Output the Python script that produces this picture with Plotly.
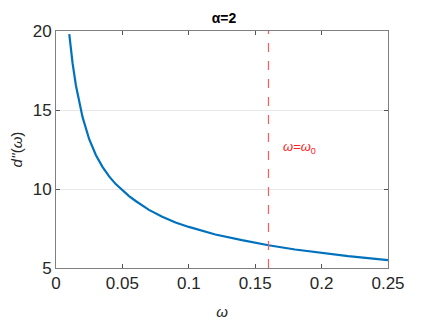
import plotly.graph_objects as go

# values
omega = [0.01, 0.0125, 0.015, 0.0175, 0.02, 0.025, 0.03, 0.035, 0.04, 0.045, 0.05, 0.055,
         0.06, 0.07, 0.08, 0.09, 0.1, 0.12, 0.14, 0.16, 0.18, 0.2, 0.22, 0.25]
d2 = [19.8, 17.95, 16.55, 15.45, 14.55, 13.15, 12.15, 11.4, 10.8, 10.31, 9.9, 9.55,
      9.24, 8.68, 8.24, 7.88, 7.6, 7.12, 6.76, 6.44, 6.17, 5.95, 5.75, 5.5]
omega0 = 0.16
xticks = [0, 0.05, 0.1, 0.15, 0.2, 0.25]
xticktext = ["0", "0.05", "0.1", "0.15", "0.2", "0.25"]
yticks = [5, 10, 15, 20]

fnt = "Liberation Sans, Arial, Helvetica, sans-serif"

fig = go.Figure()
fig.add_trace(go.Scatter(x=omega, y=d2, mode="lines",
                         line=dict(color="#0072BD", width=2.2),
                         showlegend=False, hoverinfo="x+y"))
# vertical dashed line w = w0
fig.add_trace(go.Scatter(x=[omega0, omega0], y=[5, 20], mode="lines",
                         line=dict(color="#ff5a5a", width=1.2, dash="dash"),
                         showlegend=False, hoverinfo="skip"))

fig.add_annotation(x=0.1695, y=12.6, xref="x", yref="y", xanchor="left", yanchor="middle",
                   text="<i>ω</i>=<i>ω</i><sub>0</sub>", showarrow=False,
                   font=dict(family=fnt, size=13, color="#ff2020"))

# page body adds 8px around the plot div, so the figure is a bit smaller than the window
fig.update_layout(
    width=421, height=314,
    margin=dict(l=48, r=41, t=23, b=54),
    paper_bgcolor="white", plot_bgcolor="white",
    font=dict(family=fnt, color="#262626"),
    title=dict(text="<b>α=2</b>", x=0.513, xanchor="center", y=0.968, yanchor="middle",
               font=dict(family=fnt, size=14, color="black")),
    xaxis=dict(range=[0, 0.25], tickvals=xticks, ticktext=xticktext, automargin=False,
               ticks="inside", ticklen=4, tickcolor="#555555",
               showline=True, linecolor="#7f7f7f", linewidth=1, mirror="ticks",
               showgrid=False, zeroline=False,
               tickfont=dict(size=17, color="#262626"),
               title=dict(text="<i>ω</i>", font=dict(size=15), standoff=14)),
    yaxis=dict(range=[5, 20], tickvals=yticks, automargin=False,
               ticks="inside", ticklen=4, tickcolor="#555555",
               showline=True, linecolor="#7f7f7f", linewidth=1, mirror="ticks",
               showgrid=True, gridcolor="#e8e8e8", gridwidth=1, zeroline=False,
               tickfont=dict(size=17, color="#262626"),
               title=dict(text="<i>d''</i>(<i>ω</i>)", font=dict(size=15), standoff=8)),
)

fig.write_html("out.html")
